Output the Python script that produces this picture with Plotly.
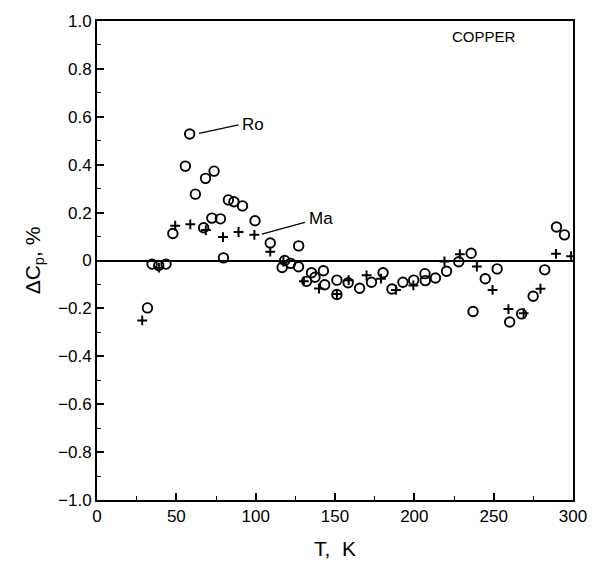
import plotly.graph_objects as go

# Ro data set: temperature (K) and deviation of heat capacity (%)
ro_T = [31.8, 34.7, 38.9, 43.5, 47.8, 55.7, 58.4, 62.0, 67.2, 68.4, 72.4, 73.8,
        77.8, 79.7, 82.8, 86.3, 91.7, 99.6, 109.2, 116.7, 118.3, 122.0, 127.0,
        127.1, 132.1, 135.2, 137.4, 142.7, 143.5, 151.2, 151.2, 158.3, 165.5,
        173.0, 180.3, 185.9, 192.8, 199.6, 206.7, 206.9, 213.3, 220.3, 228.0,
        235.8, 237.0, 244.7, 252.2, 260.1, 267.6, 274.9, 282.2, 289.6, 294.6]
ro_dC = [-0.198, -0.015, -0.021, -0.015, 0.113, 0.394, 0.528, 0.277, 0.137,
         0.343, 0.177, 0.373, 0.174, 0.011, 0.253, 0.245, 0.228, 0.166, 0.073,
         -0.029, 0.0, -0.012, -0.026, 0.061, -0.087, -0.051, -0.070, -0.043,
         -0.101, -0.082, -0.142, -0.093, -0.116, -0.091, -0.051, -0.119,
         -0.091, -0.082, -0.055, -0.084, -0.073, -0.045, -0.005, 0.030, -0.213,
         -0.076, -0.035, -0.257, -0.223, -0.149, -0.039, 0.140, 0.107]

# Ma data set
ma_T = [28.5, 39.0, 49.3, 58.8, 68.6, 79.4, 89.2, 99.2, 109.2, 117.5, 130.4,
        139.9, 151.2, 158.6, 169.9, 179.0, 188.4, 199.4, 219.0, 228.7, 239.4,
        249.3, 259.3, 268.9, 279.5, 289.3, 298.8]
ma_dC = [-0.250, -0.030, 0.145, 0.151, 0.127, 0.098, 0.119, 0.107, 0.037,
         -0.005, -0.087, -0.117, -0.140, -0.082, -0.062, -0.076, -0.123,
         -0.104, -0.004, 0.026, -0.025, -0.123, -0.203, -0.220, -0.118, 0.028,
         0.018]

FONT = "Liberation Sans, Arial, Helvetica, sans-serif"

fig = go.Figure()
fig.add_trace(go.Scatter(
    x=ma_T, y=ma_dC, mode="markers", name="Ma",
    marker=dict(symbol="cross-thin", size=7, line=dict(color="black", width=2)),
))
fig.add_trace(go.Scatter(
    x=ro_T, y=ro_dC, mode="markers", name="Ro",
    marker=dict(symbol="circle-open", size=9.5, color="black",
                line=dict(color="black", width=1.9)),
))

# Leader lines to the series labels
fig.add_shape(type="line", x0=64.3, y0=0.531, x1=89.2, y1=0.566,
              line=dict(color="black", width=1.3))
fig.add_shape(type="line", x0=103.9, y0=0.110, x1=131.0, y1=0.159,
              line=dict(color="black", width=1.3))
fig.add_annotation(x=90.2, y=0.566, text="Ro", showarrow=False, xanchor="left",
                   font=dict(size=17, color="black", family=FONT))
fig.add_annotation(x=132.3, y=0.175, text="Ma", showarrow=False, xanchor="left",
                   font=dict(size=17, color="black", family=FONT))
fig.add_annotation(x=244, y=0.934, text="COPPER", showarrow=False,
                   font=dict(size=15, color="black", family=FONT))

axis_common = dict(
    showline=True, linecolor="black", linewidth=2, mirror=True,
    ticks="inside", ticklen=7, tickwidth=1.5, tickcolor="black",
    showgrid=False,
    tickfont=dict(size=17, color="black", family=FONT),
)

fig.update_xaxes(
    range=[0, 300], tickvals=[0, 50, 100, 150, 200, 250, 300],
    zeroline=False,
    minor=dict(dtick=25, ticks="inside", ticklen=4, tickcolor="black", tickwidth=1.2),
    title=dict(text="T,  K", font=dict(size=21, color="black", family=FONT), standoff=16),
    **axis_common,
)
fig.update_yaxes(
    range=[-1.0, 1.0],
    tickvals=[-1.0, -0.8, -0.6, -0.4, -0.2, 0, 0.2, 0.4, 0.6, 0.8, 1.0],
    ticktext=["\u22121.0", "\u22120.8", "\u22120.6", "\u22120.4", "\u22120.2", "0",
              "0.2", "0.4", "0.6", "0.8", "1.0"],
    zeroline=True, zerolinecolor="black", zerolinewidth=1.6,
    minor=dict(dtick=0.1, ticks="inside", ticklen=4, tickcolor="black", tickwidth=1.2),
    title=dict(text="\u0394C<sub>p</sub>, %", font=dict(size=21, color="black", family=FONT),
               standoff=12),
    **axis_common,
)

fig.update_layout(
    width=599, height=572,
    margin=dict(l=97, r=21, t=18, b=72),
    paper_bgcolor="white", plot_bgcolor="white",
    showlegend=False,
    font=dict(family=FONT, color="black"),
)

fig.write_html("out.html")
